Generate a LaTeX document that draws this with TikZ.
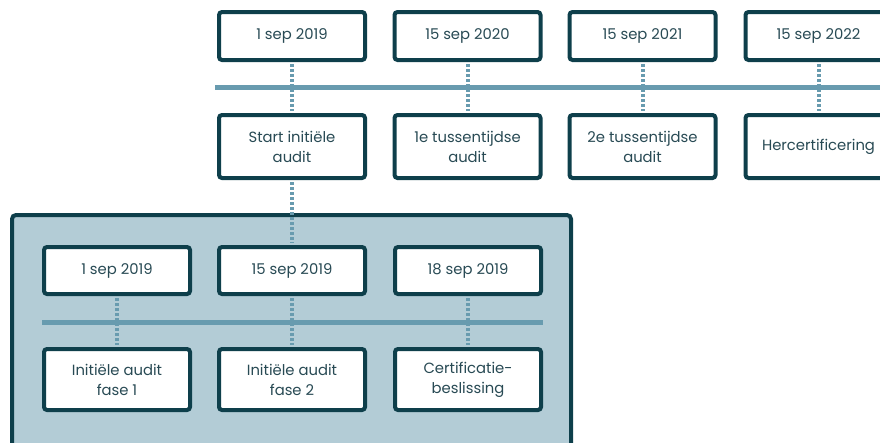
\documentclass[tikz,border=0pt]{standalone}
\usepackage{fontspec}
\setmainfont{Poppins}
\definecolor{dark}{RGB}{14,63,75}
\definecolor{panelfill}{RGB}{179,204,214}
\definecolor{tl}{RGB}{104,155,175}
\definecolor{txt}{RGB}{40,74,84}
\begin{document}
\begin{tikzpicture}[x=1pt,y=-1pt,
  box/.style={draw=dark, line width=4pt, rounded corners=3pt, fill=white,
    minimum width=146pt, align=center, inner sep=0pt,
    font=\fontsize{14.8}{20}\selectfont, text=txt},
  datebox/.style={box, minimum height=48pt},
  labbox/.style={box, minimum height=63pt},
  idatebox/.style={box, minimum height=47pt},
  ilabbox/.style={box, minimum height=61pt},
  axis/.style={tl, line width=5pt},
  dots/.style={tl, line width=4pt, dash pattern=on 3pt off 2pt, shorten <=2pt, shorten >=2pt}
]
\useasboundingbox (0,0) rectangle (880,442);
\clip (0,0) rectangle (880,442);
% panel
\draw[draw=dark, fill=panelfill, line width=4pt, rounded corners=4pt] (12,215) rectangle (571,480);
% timelines
\draw[axis] (215,87) -- (895,87);
\draw[axis] (42,322) -- (543,322);
% top row
\node[datebox] (t1) at (292,36) {1 sep 2019};
\node[datebox] (t2) at (467.5,36) {15 sep 2020};
\node[datebox] (t3) at (642.5,36) {15 sep 2021};
\node[datebox] (t4) at (818.5,36) {15 sep 2022};
\node[labbox] (b1) at (292,146.5) {Start initiële\\audit};
\node[labbox] (b2) at (467.5,146.5) {1e tussentijdse\\audit};
\node[labbox] (b3) at (642.5,146.5) {2e tussentijdse\\audit};
\node[labbox] (b4) at (818.5,146.5) {Hercertificering};
% inner rows
\node[idatebox] (i1) at (117,270.5) {1 sep 2019};
\node[idatebox] (i2) at (292,270.5) {15 sep 2019};
\node[idatebox] (i3) at (468,270.5) {18 sep 2019};
\node[ilabbox] (j1) at (117,379.5) {Initiële audit\\fase 1};
\node[ilabbox] (j2) at (292,379.5) {Initiële audit\\fase 2};
\node[ilabbox] (j3) at (468,379.5) {Certificatie-\\beslissing};
% connectors
\draw[dots] (t1.south) -- (b1.north);
\draw[dots] (t2.south) -- (b2.north);
\draw[dots] (t3.south) -- (b3.north);
\draw[dots] (t4.south) -- (b4.north);
\draw[dots] (b1.south) -- (i2.north);
\draw[dots] (i1.south) -- (j1.north);
\draw[dots] (i2.south) -- (j2.north);
\draw[dots] (i3.south) -- (j3.north);
\end{tikzpicture}
\end{document}
